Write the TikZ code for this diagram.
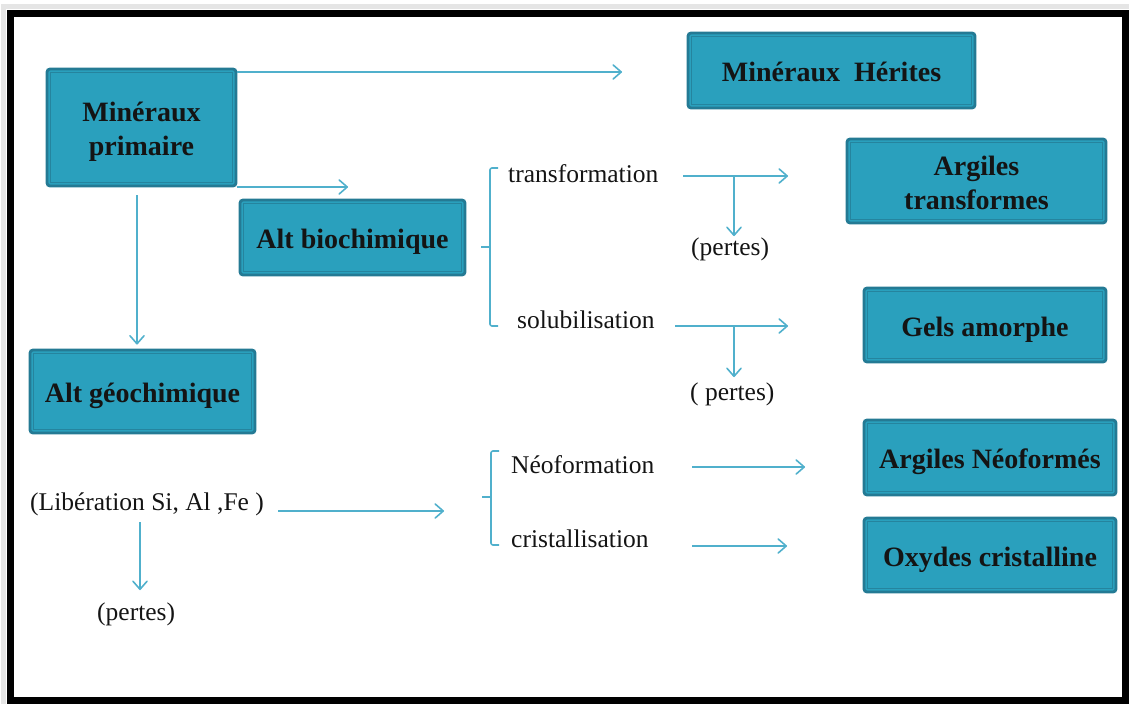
\documentclass[tikz,border=0pt]{standalone}
\usepackage{fontspec}
\setmainfont{Liberation Serif}
\usetikzlibrary{arrows.meta}
\definecolor{boxfill}{RGB}{42,160,189}
\definecolor{boxedge}{RGB}{36,122,148}
\definecolor{boxinner}{RGB}{37,132,158}
\definecolor{lineblue}{RGB}{80,176,204}
\begin{document}
\begin{tikzpicture}[x=1pt,y=-1pt,
  box/.style={draw=boxedge, fill=boxfill, line width=2.8pt, rounded corners=3pt, inner sep=0pt, align=center, font=\fontsize{28}{34}\selectfont\bfseries, text=black!92},
  boxone/.style={box, text height=22pt, text depth=0pt},
  boxtwo/.style={box, text height=62pt, text depth=6pt},
  innerbox/.style={draw=boxinner, line width=1.3pt},
  lbl/.style={inner sep=0pt, font=\fontsize{25.5}{30}\selectfont, anchor=base west, text=black!92},
  ln/.style={draw=lineblue, line width=1.6pt},
  arr/.style={ln, -{Straight Barb[length=8pt,width=14pt,line cap=round,line join=round]}},
]
\useasboundingbox (0,0) rectangle (1129,704);
% frame with faint shadow
\draw[black!10, line width=5pt] (3,704) -- (3,6) -- (1129,6);
\draw[line width=7pt] (10.5,13.5) rectangle (1125.5,700.5);

% boxes
\node[boxtwo, minimum width=189pt, minimum height=117pt] (mp) at (141.5,127.5) {Minéraux\\primaire};
\node[boxone, minimum width=225pt, minimum height=75pt] (ab) at (352.5,237.5) {Alt biochimique};
\node[boxone, minimum width=287pt, minimum height=75pt] (mh) at (831.5,70.5) {Minéraux\ \ Hérites};
\node[boxtwo, minimum width=259pt, minimum height=84pt] (at) at (976.5,181) {Argiles\\transformes};
\node[boxone, minimum width=242pt, minimum height=74pt] (ga) at (985,325) {Gels amorphe};
\node[boxone, minimum width=225pt, minimum height=83pt] (ag) at (142.5,391.5) {Alt géochimique};
\node[boxone, minimum width=252pt, minimum height=75pt] (an) at (990,457.5) {Argiles Néoformés};
\node[boxone, minimum width=252pt, minimum height=74pt] (oc) at (990,555) {Oxydes cristalline};
\foreach \n in {mp,ab,mh,at,ga,ag,an,oc}
  \draw[innerbox] ([shift={(5pt,-5pt)}]\n.north west) rectangle ([shift={(-5pt,5pt)}]\n.south east);

% plain labels
\node[lbl] (tr) at (508,182) {transformation};
\node[lbl] (p1) at (691,255) {(pertes)};
\node[lbl] (so) at (517,328) {solubilisation};
\node[lbl] (p2) at (690,400) {( pertes)};
\node[lbl] (lib) at (30,510) {(Libération Si, Al ,Fe )};
\node[lbl] (p3) at (97,620) {(pertes)};
\node[lbl] (neo) at (511,473) {Néoformation};
\node[lbl] (cri) at (511,547) {cristallisation};

% free ends
\coordinate (e1) at (622,72);
\coordinate (e2) at (348,187);
\coordinate (d1) at (137,195);
\coordinate (ts) at (683,176);
\coordinate (te) at (788,176);
\coordinate (tb) at (734,176);
\coordinate (ss) at (675,326);
\coordinate (se) at (788,326);
\coordinate (sb) at (734,326);
\coordinate (ls) at (278,511);
\coordinate (le) at (444,511);
\coordinate (ld) at (140,522);
\coordinate (ns) at (692,467);
\coordinate (ne) at (805,467);
\coordinate (cs) at (692,546);
\coordinate (ce) at (787,546);

% connectors
\draw[arr] (mp.east |- e1) -- (e1);
\draw[arr] (mp.east |- e2) -- (e2);
\draw[arr, shorten >=4pt] (d1) -- (d1 |- ag.north);
\draw[arr] (ts) -- (te);
\draw[arr, shorten >=1pt] (tb) -- (tb |- p1.north);
\draw[arr] (ss) -- (se);
\draw[arr, shorten >=5pt] (sb) -- (sb |- p2.north);
\draw[arr] (ls) -- (le);
\draw[arr, shorten >=12pt] (ld) -- (ld |- p3.north);
\draw[arr] (ns) -- (ne);
\draw[arr] (cs) -- (ce);

% brackets
\draw[ln, rounded corners=2pt] (498,168) -- (490,168) -- (490,326) -- (498,326);
\draw[ln] (490,247) -- (481,247);
\draw[ln, rounded corners=2pt] (499,451) -- (491,451) -- (491,545) -- (499,545);
\draw[ln] (491,497) -- (482,497);
\end{tikzpicture}
\end{document}
